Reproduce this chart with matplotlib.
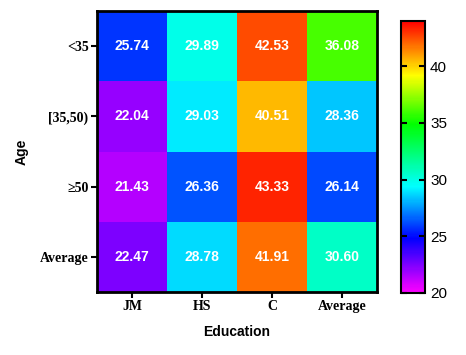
import numpy as np
import matplotlib
matplotlib.use("Agg")
import matplotlib.pyplot as plt
from matplotlib.colors import LinearSegmentedColormap

# ---------------------------------------------------
# Data
# ---------------------------------------------------

education = ["JM", "HS", "C", "Average"]
age = ["<35", "[35,50)", "\u226550", "Average"]

row_lt35 = [25.74, 29.89, 42.53, 36.08]
row_35_50 = [22.04, 29.03, 40.51, 28.36]
row_ge50 = [21.43, 26.36, 43.33, 26.14]
row_avg = [22.47, 28.78, 41.91, 30.60]

values = np.array([row_lt35, row_35_50, row_ge50, row_avg])

vmin, vmax = 20, 44

# ---------------------------------------------------
# Colormap (magenta -> blue -> cyan -> green -> yellow -> red)
# ---------------------------------------------------

def pos(v):
    return (v - vmin) / (vmax - vmin)

stops = [
    (0.0, (1.0, 0.0, 1.0)),
    (pos(24.8), (0.0, 0.0, 1.0)),
    (pos(29.4), (0.0, 1.0, 1.0)),
    (pos(34.9), (0.0, 1.0, 0.0)),
    (pos(39.2), (1.0, 1.0, 0.0)),
    (1.0, (1.0, 0.0, 0.0)),
]
cmap = LinearSegmentedColormap.from_list("origin_rainbow", stops)

# ---------------------------------------------------
# Plot
# ---------------------------------------------------

fig = plt.figure(figsize=(4.66, 3.55), dpi=100)
ax = fig.add_axes([0.208, 0.177, 0.601, 0.792])
cax = fig.add_axes([0.861, 0.175, 0.0515, 0.766])

mesh = ax.pcolormesh(values, cmap=cmap, vmin=vmin, vmax=vmax)
ax.set_xlim(0, 4)
ax.set_ylim(4, 0)

for i in range(values.shape[0]):
    for j in range(values.shape[1]):
        ax.text(j + 0.5, i + 0.5, f"{values[i, j]:.2f}",
                ha="center", va="center", color="white",
                fontsize=10, fontweight="bold", family="Liberation Sans")

ax.set_xticks(np.arange(4) + 0.5)
ax.set_xticklabels(education, family="Liberation Serif", fontweight="bold", fontsize=10)
ax.set_yticks(np.arange(4) + 0.5)
ax.set_yticklabels(age, family=["Liberation Serif", "DejaVu Serif"], fontweight="bold", fontsize=10)
ax.tick_params(direction="out", length=4, width=1.5, pad=2)

ax.set_xlabel("Education", family="Liberation Sans", fontweight="bold", fontsize=10, labelpad=8)
ax.set_ylabel("Age", family="Liberation Sans", fontweight="bold", fontsize=10, labelpad=8)

for spine in ax.spines.values():
    spine.set_linewidth(2)

cb = fig.colorbar(mesh, cax=cax, ticks=[20, 25, 30, 35, 40])
cb.outline.set_linewidth(1.5)
cax.tick_params(direction="in", length=4, width=1.5, labelsize=11, left=True, right=True)
for lab in cax.get_yticklabels():
    lab.set_family("Liberation Sans")

plt.savefig("out.png", dpi=100)
